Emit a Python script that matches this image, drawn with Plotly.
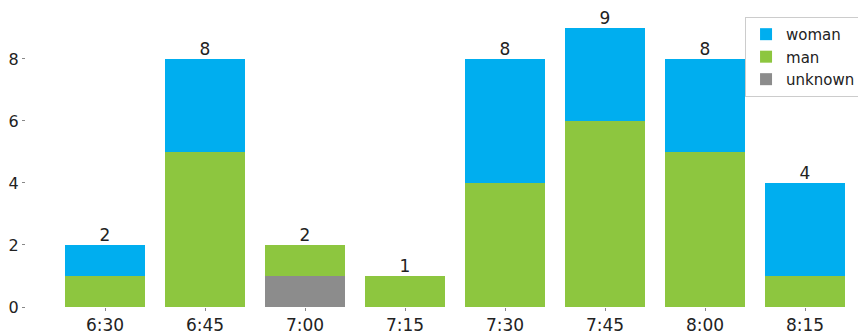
import plotly.graph_objects as go

categories = ["6:30", "6:45", "7:00", "7:15", "7:30", "7:45", "8:00", "8:15"]
unknown = [0, 0, 1, 0, 0, 0, 0, 0]
man = [1, 5, 1, 1, 4, 6, 5, 1]
woman = [1, 3, 0, 0, 4, 3, 3, 3]
totals = [u + m + w for u, m, w in zip(unknown, man, woman)]

x = list(range(len(categories)))
font = "DejaVu Sans, sans-serif"

fig = go.Figure()
fig.add_trace(go.Bar(x=x, y=unknown, name="unknown", marker=dict(color="#8c8c8c", line=dict(width=0)), width=0.8))
fig.add_trace(go.Bar(x=x, y=man, name="man", marker=dict(color="#8dc63f", line=dict(width=0)), width=0.8))
fig.add_trace(go.Bar(x=x, y=woman, name="woman", marker=dict(color="#00aeef", line=dict(width=0)), width=0.8))
fig.add_trace(go.Scatter(x=x, y=totals, mode="text", text=[str(t) for t in totals],
                         textposition="top center", textfont=dict(size=17, color="#222", family=font),
                         showlegend=False, hoverinfo="skip", cliponaxis=False))

fig.update_layout(
    barmode="stack",
    width=858, height=326,
    margin=dict(l=18, r=0, t=6, b=27),
    plot_bgcolor="white", paper_bgcolor="white",
    font=dict(family=font, size=16, color="#222"),
    legend=dict(x=0.856, y=0.99, xanchor="left", yanchor="top", traceorder="reversed",
                bordercolor="#cccccc", borderwidth=1, bgcolor="white",
                font=dict(size=15, family=font), itemwidth=30, tracegroupgap=0),
    xaxis=dict(range=[-0.79, 7.61], tickmode="array", tickvals=x, ticktext=categories,
               showgrid=False, zeroline=False, showline=False, ticks="outside", ticklen=3,
               tickcolor="#888", tickfont=dict(size=17)),
    yaxis=dict(range=[0, 9.45], tickvals=[0, 2, 4, 6, 8], showgrid=False, zeroline=False,
               showline=False, ticks="outside", ticklen=3, tickcolor="#888",
               tickfont=dict(size=16)),
    bargap=0,
)

fig.write_html("out.html")
